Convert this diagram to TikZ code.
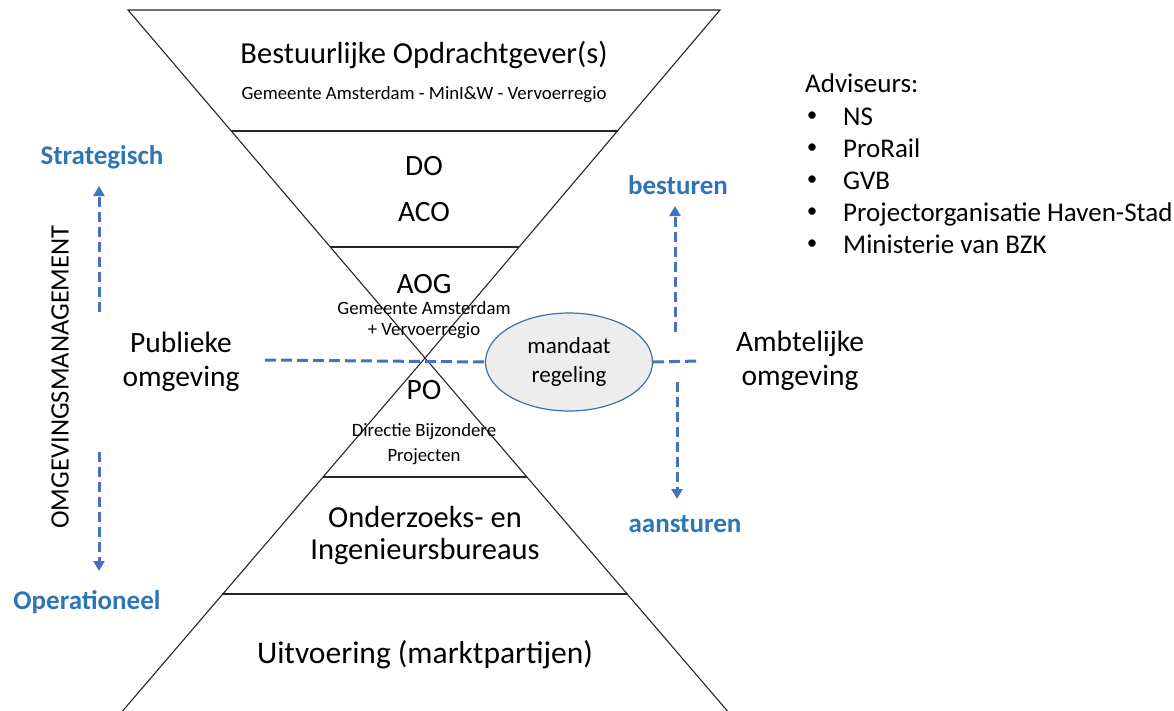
\documentclass[tikz,border=0pt]{standalone}
\usepackage{fontspec}
\setmainfont{Carlito}
\usetikzlibrary{arrows.meta,shapes,positioning}
\definecolor{kopblauw}{RGB}{46,117,182}
\definecolor{lijnblauw}{RGB}{68,114,196}
\definecolor{randblauw}{RGB}{65,113,156}
\tikzset{
  frame/.style  = {draw=black!85, line width=1.1pt},
  basic/.style  = {align=center, inner sep=0pt, font=\fontsize{29.5}{34}\selectfont},
  title/.style  = {basic, font=\fontsize{30.5}{35}\selectfont},
  small/.style  = {align=center, inner sep=0pt, font=\fontsize{18.8}{21}\selectfont},
  side/.style   = {inner sep=0pt, text=kopblauw, font=\bfseries\fontsize{27}{30}\selectfont},
  adv/.style    = {inner sep=0pt, font=\fontsize{27}{32}\selectfont},
  flow/.style   = {draw=lijnblauw, line width=3pt, dash pattern=on 11pt off 5pt},
  pijl/.style   = {flow, dash pattern=on 10pt off 5pt, -{Triangle[width=11pt,length=10pt]}},
  mandaat/.style= {ellipse, draw=randblauw, line width=1.2pt, fill=black!7,
                   minimum width=167pt, minimum height=98pt, align=center, inner sep=0pt,
                   font=\fontsize{23}{29}\selectfont}
}
\begin{document}
\begin{tikzpicture}[x=1pt,y=-1pt]
\useasboundingbox (0,0) rectangle (1174,710);
% zandloper
\coordinate (tl) at (128,10);
\coordinate (tr) at (720,10);
\coordinate (mid) at (425,358);
\coordinate (bl) at (120,714);
\coordinate (br) at (730,714);
\draw[frame] (tl) -- (tr) -- (mid) -- cycle;
\draw[frame] (bl) -- (mid) -- (br);
\draw[frame] (231,131) -- (618,131);
\draw[frame] (330,247) -- (519,247);
\draw[frame] (323,477) -- (527,477);
\draw[frame] (222,594) -- (628,594);

\node[title] (bo) at (424,55) {Bestuurlijke Opdrachtgever(s)};
\node[small] (bo2) at (424,95) {Gemeente Amsterdam - MinI\&W - Vervoerregio};
\node[basic] (do) at (424,166) {DO};
\node[basic] (aco) at (424,212) {ACO};
\node[basic] (aog) at (424,284) {AOG};
\node[small] (aog2) at (424,320) {Gemeente Amsterdam\\+ Vervoerregio};
\node[basic] (po) at (424,390) {PO};
\node[small, font=\fontsize{18.8}{25}\selectfont] (po2) at (424,444) {Directie Bijzondere\\Projecten};
\node[basic, font=\fontsize{30.5}{32}\selectfont] (oib) at (425,536) {Onderzoeks- en\\Ingenieursbureaus};
\node[basic, font=\fontsize{31.5}{35}\selectfont] (uit) at (425,655) {Uitvoering (marktpartijen)};

% omgevingen
\node[basic] (pub) at (181,362) {Publieke\\omgeving};
\node[basic] (amb) at (800,361) {Ambtelijke\\omgeving};
\node[mandaat] (md) at (569,362) {mandaat\\regeling};
\coordinate (pl) at (265,360);
\coordinate (pr) at (699,361);
\draw[flow] (pl) -- (md.west);
\draw[flow] (md.east) -- (pr);

% sturing
\node[side] (bst) at (678,185) {besturen};
\node[side] (ast) at (685,524) {aansturen};
\coordinate (b0) at (675,332);
\coordinate (b1) at (675,206);
\coordinate (a0) at (677,382);
\coordinate (a1) at (677,499);
\draw[pijl] (b0) -- (b1);
\draw[pijl] (a0) -- (a1);

% omgevingsmanagement
\node[side] (str) at (102,157) {Strategisch};
\node[side] (ope) at (87,602) {Operationeel};
\node[basic, rotate=90, font=\fontsize{26.5}{30}\selectfont] (omg) at (60,377) {OMGEVINGSMANAGEMENT};
\coordinate (s0) at (99,312);
\coordinate (s1) at (99,186);
\coordinate (o0) at (99,452);
\coordinate (o1) at (99,571);
\draw[pijl] (s0) -- (s1);
\draw[pijl] (o0) -- (o1);

% adviseurs
\node[adv, anchor=base west] (adv) at (805,92) {Adviseurs:};
\foreach \naam [count=\i] in {NS, ProRail, GVB, Projectorganisatie Haven-Stad, Ministerie van BZK} {
  \node[adv, anchor=center, font=\fontsize{21}{24}\selectfont] (dot\i) at (812,85+32*\i) {\textbullet};
  \node[adv, anchor=base west] (item\i) at (843,93+32*\i) {\naam};
}
\end{tikzpicture}
\end{document}
